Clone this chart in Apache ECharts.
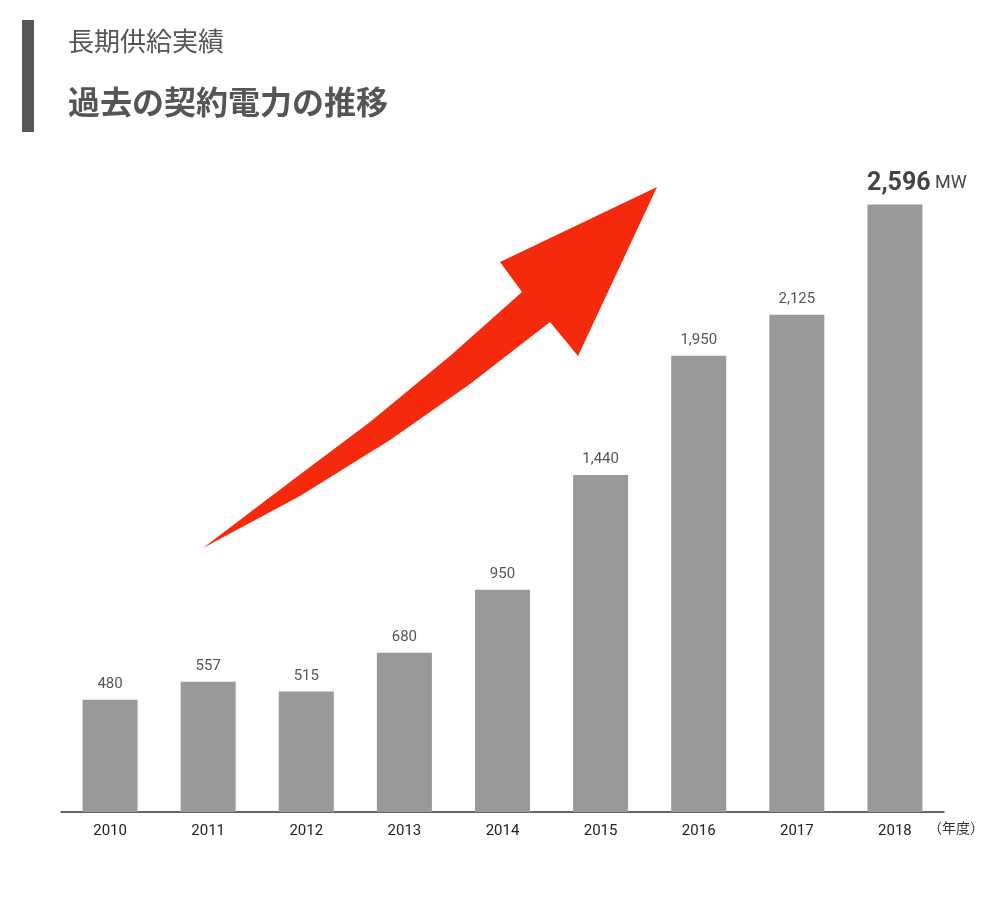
<!DOCTYPE html>
<html><head><meta charset="utf-8">
<script src="https://cdn.jsdelivr.net/npm/echarts@6/dist/echarts.min.js"></script>
<style>html,body{margin:0;background:#fff}#c{width:1000px;height:900px}</style>
</head><body><div id="c"></div>
<script>
const years = ['2010','2011','2012','2013','2014','2015','2016','2017','2018'];
const values = [480,557,515,680,950,1440,1950,2125,2596];
const chart = echarts.init(document.getElementById('c'));
const F = '"Noto Sans CJK JP","Noto Sans",sans-serif';
chart.setOption({
  animation:false,
  grid:{left:61,right:56,top:175,bottom:88},
  xAxis:{type:'category',data:years,axisTick:{show:false},
    axisLine:{lineStyle:{color:'#333',width:1.5}},
    axisLabel:{color:'#222',fontSize:15,margin:12,fontFamily:'Roboto,sans-serif'}},
  yAxis:{type:'value',min:0,max:2722,show:false,splitLine:{show:false}},
  series:[{type:'bar',barWidth:55,data:values.map((v,i)=>i===values.length-1?{value:v,label:{formatter:p=>'{b|'+p.value.toLocaleString('en-US')+'}{u| MW}',offset:[22,0]}}:v),
    itemStyle:{color:'#999999'},
    label:{show:true,position:'top',distance:8,color:'#555',fontSize:15,fontFamily:'Roboto,sans-serif',
      formatter:p=>p.value.toLocaleString('en-US'),
      rich:{b:{fontSize:25,fontWeight:'bold',color:'#444',fontFamily:'Roboto,sans-serif'},u:{fontSize:18,color:'#444',fontFamily:'Roboto,sans-serif'}}}}],
  graphic:[
    {type:'rect',shape:{x:22,y:20,width:12,height:112},style:{fill:'#555'}},
    {type:'text',x:68,y:28,style:{text:'長期供給実績',font:'26px '+F,fill:'#555'}},
    {type:'text',x:68,y:86,style:{text:'過去の契約電力の推移',font:'bold 32px '+F,fill:'#555'}},
    {type:'text',x:928,y:821,style:{text:'（年度）',font:'14px '+F,fill:'#333'}},
    {type:'polygon',shape:{points:[[203,548],[290,482],[370,422],[450,356],[522,292],[500,262],[657,187],[578,356],[550,322],[470,384],[390,440],[300,496]]},style:{fill:'#f52a0c'}}
  ]
});
</script></body></html>
